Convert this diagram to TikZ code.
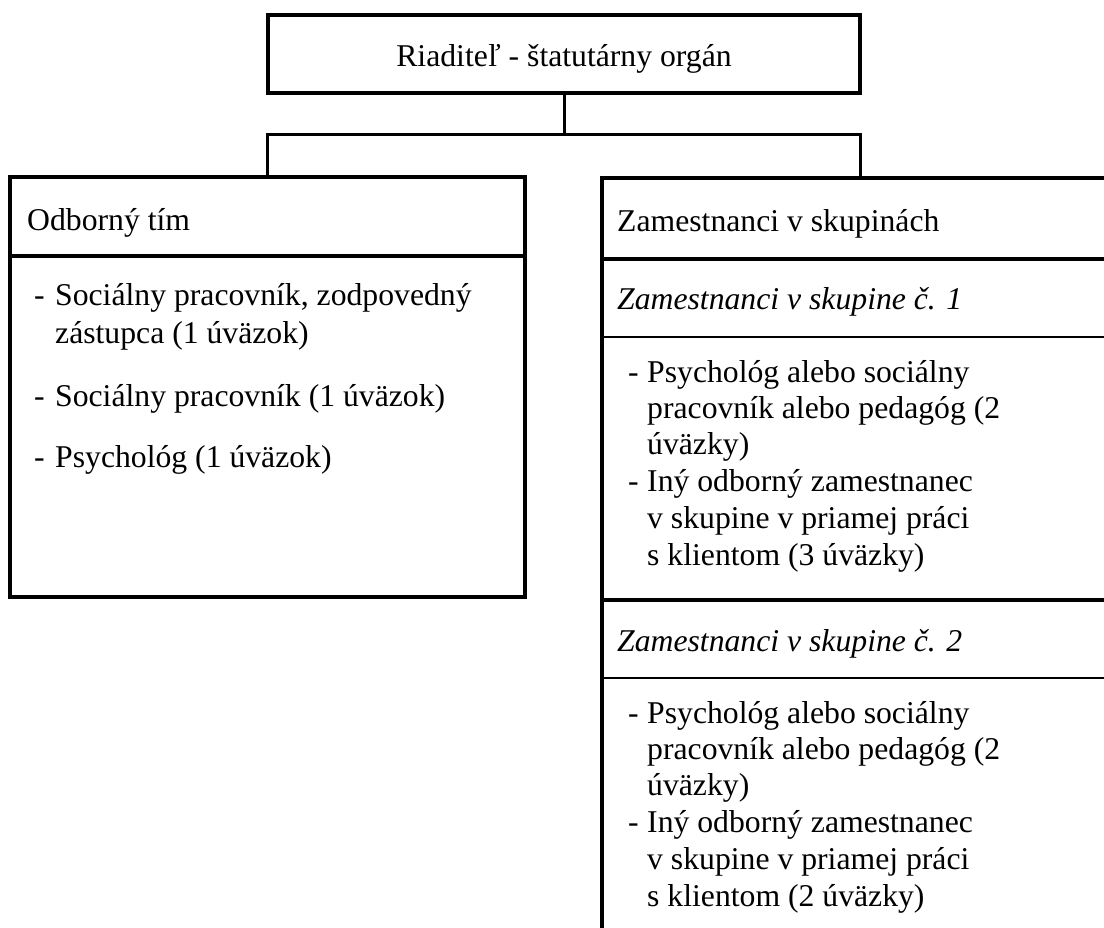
\documentclass[tikz,border=0pt]{standalone}
\usepackage{fontspec}
\setmainfont{Liberation Serif}
\begin{document}
\begin{tikzpicture}[x=1pt,y=-1pt,
  box/.style={draw, line width=3.5pt, inner sep=0pt, outer sep=0pt},
  txt/.style={anchor=base west, inner sep=0pt, font=\fontsize{31.7}{36.5}\selectfont},
  conn/.style={line width=3pt},
  thickdiv/.style={line width=3.5pt},
  thindiv/.style={line width=2.2pt}]
\clip (0,0) rectangle (1104,928);
\fill[white] (0,0) rectangle (1104,928);
% boxes
\node[box, minimum width=592pt, minimum height=78pt] (top) at (564,54) {};
\node[box, minimum width=515pt, minimum height=420pt] (left) at (267.5,387) {};
\node[box, minimum width=516pt, minimum height=802pt] (right) at (860,579) {};
% connectors
\coordinate (bus) at (564,135);
\draw[conn] (top.south) -- (bus);
\draw[conn] (left.north) -- (left.north |- bus) -- (right.north |- bus) -- (right.north);
% dividers
\draw[thickdiv] (left.west |- 0,256) -- (left.east |- 0,256);
\draw[thickdiv] (right.west |- 0,259) -- (right.east |- 0,259);
\draw[thindiv] (right.west |- 0,337) -- (right.east |- 0,337);
\draw[thickdiv] (right.west |- 0,600) -- (right.east |- 0,600);
\draw[thindiv] (right.west |- 0,678) -- (right.east |- 0,678);
% texts
\node[txt, anchor=base] (ttop) at (564,67) {Riaditeľ - štatutárny orgán};
\node[txt] (lh) at (27,231) {Odborný tím};
\node[txt] (l1a) at (34,306) {-};
\node[txt] (l1b) at (55,306) {Sociálny pracovník, zodpovedný};
\node[txt] (l1c) at (55,344) {zástupca (1 úväzok)};
\node[txt] (l2a) at (34,406) {-};
\node[txt] (l2b) at (55,406) {Sociálny pracovník (1 úväzok)};
\node[txt] (l3a) at (34,467) {-};
\node[txt] (l3b) at (55,467) {Psychológ (1 úväzok)};
\node[txt] (rh) at (617,232) {Zamestnanci v skupinách};
\node[txt] (g1h) at (617,310) {\itshape Zamestnanci v skupine č. 1};
\node[txt] (g1a) at (628,382) {-};
\node[txt] (g1b) at (647,382) {Psychológ alebo sociálny};
\node[txt] (g1c) at (647,418) {pracovník alebo pedagóg (2};
\node[txt] (g1d) at (647,454) {úväzky)};
\node[txt] (g1e) at (628,491) {-};
\node[txt] (g1f) at (647,491) {Iný odborný zamestnanec};
\node[txt] (g1g) at (647,528) {v skupine v priamej práci};
\node[txt] (g1h2) at (647,565) {s klientom (3 úväzky)};
\node[txt] (g2h) at (617,651) {\itshape Zamestnanci v skupine č. 2};
\node[txt] (g2a) at (628,723) {-};
\node[txt] (g2b) at (647,723) {Psychológ alebo sociálny};
\node[txt] (g2c) at (647,759) {pracovník alebo pedagóg (2};
\node[txt] (g2d) at (647,795) {úväzky)};
\node[txt] (g2e) at (628,832) {-};
\node[txt] (g2f) at (647,832) {Iný odborný zamestnanec};
\node[txt] (g2g) at (647,869) {v skupine v priamej práci};
\node[txt] (g2h2) at (647,906) {s klientom (2 úväzky)};
\end{tikzpicture}
\end{document}
